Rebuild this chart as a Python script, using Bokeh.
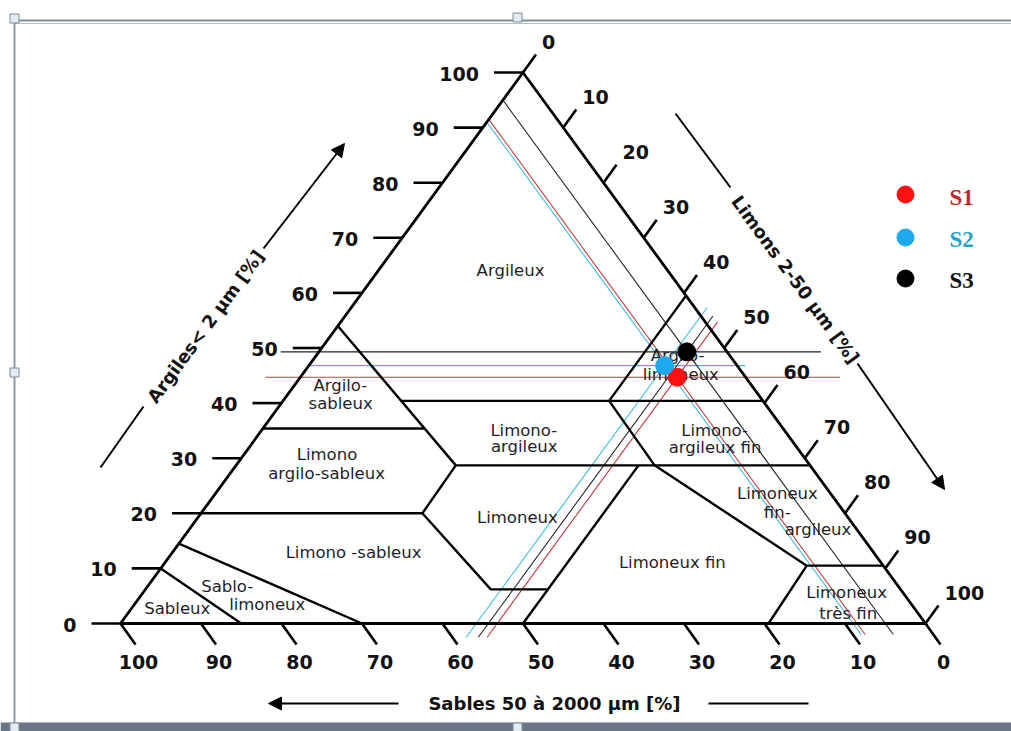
import math
from bokeh.plotting import figure
from bokeh.models import Range1d, ColumnDataSource, Arrow, NormalHead
from bokeh.core.properties import value
from bokeh.embed import file_html
from bokeh.resources import INLINE

# ---------------- data ----------------
samples = ["S1", "S2", "S3"]
sample_clay = [44.7, 46.8, 49.3]   # Argiles < 2 µm [%]
sample_silt = [46.8, 44.2, 45.7]   # Limons 2-50 µm [%]
sample_sand = [8.5, 9.0, 5.0]      # Sables 50-2000 µm [%]
dot_colors = ["#ff1010", "#1ea8ee", "#000000"]
guide_colors = ["#c23a40", "#3cbcd8", "#222222"]
legend_text_colors = ["#c0282a", "#2aa4c4", "#111111"]
# extent of the horizontal reading lines (in triangle X units)
guide_h_from = [18.0, 23.2, 19.9]
guide_h_to = [89.4, 77.6, 87.0]

tick_values = [0, 10, 20, 30, 40, 50, 60, 70, 80, 90, 100]
tick_labels = [str(v) for v in tick_values]

# texture-class boundaries: polylines given as (clay list, silt list)
boundary_clay = [
    [54.0, 28.7],
    [35.4, 35.4],
    [40.4, 40.4],
    [28.7, 28.7],
    [40.4, 59.5],
    [40.4, 28.7, 10.5, 10.5],
    [10.5, 0.0],
    [0.0, 28.7],
    [28.7, 20.0, 6.2, 6.2],
    [20.0, 20.0],
    [14.5, 0.0],
    [10.0, 0.0],
]
boundary_silt = [
    [0.0, 27.3],
    [0.0, 20.1],
    [14.6, 59.6],
    [27.3, 71.3],
    [40.5, 40.5],
    [40.5, 52.0, 80.0, 89.5],
    [80.0, 80.5],
    [50.0, 50.0],
    [27.3, 27.5, 42.9, 50.0],
    [0.0, 27.5],
    [0.0, 30.0],
    [0.0, 15.0],
]

# class names (one entry per text line) and their (clay, silt) anchors
class_text = ["Argileux", "Argilo-", "sableux", "Limono", "argilo-sableux",
              "Limono-", "argileux", "Argilo-", "limoneux", "Limono-",
              "argileux fin", "Limoneux", "Limono -sableux", "Sablo-",
              "limoneux", "Sableux", "Limoneux fin", "Limoneux", "fin-",
              "argileux", "Limoneux", "très fin"]
class_clay = [64.1, 43.2, 39.9, 30.7, 27.2, 35.0, 32.1, 48.6, 45.2, 35.0,
              31.9, 19.2, 12.9, 6.7, 3.45, 2.7, 11.1, 23.6, 20.15, 17.1,
              5.6, 1.8]
class_silt = [16.4, 5.7, 7.4, 10.3, 12.0, 32.6, 34.1, 44.9, 47.0, 56.3,
              57.9, 39.7, 22.5, 9.9, 16.5, 5.7, 63.0, 69.8, 71.5, 78.1,
              87.4, 89.5]

# ---------------- geometry ----------------
W, H = 1011, 731
X0PX, Y0PX, SX, SY = 120.0, 623.0, 8.05, 5.51


def tx(c, s):
    return s + c / 2.0


def ty(c, s):
    return c


def p2d(px, py):
    return ((px - X0PX) / SX, (Y0PX - py) / SY)


def dpx(dx):
    return dx / SX


def dpy(dy):
    return -dy / SY


p = figure(width=W, height=H,
           x_range=Range1d(-X0PX / SX, (W - X0PX) / SX),
           y_range=Range1d(-(H - Y0PX) / SY, Y0PX / SY),
           output_backend="svg", toolbar_location=None,
           x_axis_location=None, y_axis_location=None, min_border=0)
p.grid.visible = False
p.outline_line_color = None
p.background_fill_color = "white"
p.border_fill_color = "white"

# ---- frame decoration (image selection frame) ----
bx0, by0 = p2d(0, 722)
bx1, by1 = p2d(W, H)
p.quad(left=[bx0], right=[bx1], bottom=[by1], top=[by0], fill_color="#6a7684", line_color=None)
tx0, ty0 = p2d(14, 20)
tx1, _ = p2d(W, 20)
_, ty2 = p2d(14, 23)
p.segment(x0=[tx0, tx0], y0=[ty0, ty2], x1=[tx1, tx1], y1=[ty0, ty2],
          line_color=["#7e8d9c", "#b5c0cb"], line_width=[2, 1])
lx, ly0 = p2d(14, 20)
_, ly1 = p2d(14, 722)
p.segment(x0=[lx], y0=[ly0], x1=[lx], y1=[ly1], line_color="#8c99a6", line_width=2)
hpts = [p2d(14, 18), p2d(517, 17), p2d(14, 372), p2d(517, 727), p2d(14, 727)]
p.scatter(x=[h[0] for h in hpts], y=[h[1] for h in hpts], marker="square", size=9,
          fill_color="#e4ebf2", line_color="#7d8c9b", line_width=1)

# ---- sample guide lines ----
for i in range(3):
    c, s, a = sample_clay[i], sample_silt[i], sample_sand[i]
    col = guide_colors[i]
    # horizontal (constant clay)
    p.line(x=[guide_h_from[i], guide_h_to[i]], y=[ty(c, 0), ty(c, 0)], line_color=col, line_width=1.1)
    # constant sand (parallel to right edge)
    c_top, c_bot = 100 - a, -2.0
    p.line(x=[tx(c_top, 100 - a - c_top), tx(c_bot, 100 - a - c_bot)],
           y=[ty(c_top, 0), ty(c_bot, 0)], line_color=col, line_width=1.1)
    # constant silt (parallel to left edge)
    c_lo, c_hi = -2.5, 100 - s + 1.5
    p.line(x=[tx(c_lo, s), tx(c_hi, s)], y=[ty(c_lo, s), ty(c_hi, s)], line_color=col, line_width=1.1)

# ---- triangle outline ----
oc = [0, 0, 100, 0]
osl = [0, 100, 0, 0]
p.line(x=[tx(c, s) for c, s in zip(oc, osl)], y=[ty(c, s) for c, s in zip(oc, osl)],
       line_color="black", line_width=2.8, line_join="miter")

# ---- class boundaries ----
bxs = [[tx(c, s) for c, s in zip(cl, sl)] for cl, sl in zip(boundary_clay, boundary_silt)]
bys = [[ty(c, s) for c, s in zip(cl, sl)] for cl, sl in zip(boundary_clay, boundary_silt)]
p.multi_line(xs=bxs, ys=bys, line_color="black", line_width=2.4)

# ---- class labels ----
p.text(x=[tx(c, s) for c, s in zip(class_clay, class_silt)],
       y=[ty(c, s) for c, s in zip(class_clay, class_silt)],
       text=class_text, text_font=value("DejaVu Sans"), text_font_size="16.5px",
       text_color="#1e1e28", text_align="center", text_baseline="middle")

# ---- ticks ----
tick_font = value("DejaVu Sans")
# clay (left edge), horizontal ticks
lx0 = [tx(v, 0) for v in tick_values]
ly0 = [ty(v, 0) for v in tick_values]
p.segment(x0=lx0, y0=ly0, x1=[x + dpx(-29) for x in lx0], y1=ly0, line_color="black", line_width=2.6)
p.text(x=[x + dpx(-44) for x in lx0], y=[y + dpy(1) for y in ly0], text=tick_labels,
       text_font=tick_font, text_font_style="bold", text_font_size="19px",
       text_align="right", text_baseline="middle", text_color="#111111")
# sand (bottom edge), ticks parallel to right edge
sx0 = [tx(0, 100 - v) for v in tick_values]
sy0 = [ty(0, 100 - v) for v in tick_values]
p.segment(x0=sx0, y0=sy0, x1=[x + dpx(15) for x in sx0], y1=[y + dpy(21) for y in sy0],
          line_color="black", line_width=2.6)
p.text(x=[x + dpx(18) for x in sx0], y=[y + dpy(38) for y in sy0], text=tick_labels,
       text_font=tick_font, text_font_style="bold", text_font_size="19px",
       text_align="center", text_baseline="middle", text_color="#111111")
# silt (right edge), ticks parallel to left edge
rx0 = [tx(100 - v, v) for v in tick_values]
ry0 = [ty(100 - v, v) for v in tick_values]
p.segment(x0=rx0, y0=ry0, x1=[x + dpx(13) for x in rx0], y1=[y + dpy(-18) for y in ry0],
          line_color="black", line_width=2.6)
p.text(x=[x + dpx(19) for x in rx0], y=[y + dpy(-31) for y in ry0], text=tick_labels,
       text_font=tick_font, text_font_style="bold", text_font_size="19px",
       text_align="left", text_baseline="middle", text_color="#111111")

# ---- axis titles ----
ang = math.atan2(551, 403)
titles = [("Argiles< 2 µm [%]", (205, 326), ang),
          ("Limons 2-50 µm [%]", (795, 279), -ang),
          ("Sables 50 à 2000 µm [%]", (554, 703), 0.0)]
for t, (px, py), a in titles:
    x, y = p2d(px, py)
    p.text(x=[x], y=[y], text=[t], angle=a, text_font=tick_font, text_font_style="bold",
           text_font_size="18px", text_align="center", text_baseline="middle", text_color="#111111")

plain = [((100, 467), (143, 406)), ((675, 113), (730, 187)), ((708, 703), (808, 703))]
for (a0, a1) in plain:
    x0, y0 = p2d(*a0)
    x1, y1 = p2d(*a1)
    p.line(x=[x0, x1], y=[y0, y1], line_color="black", line_width=2)
arrows = [((263, 248), (344, 143)), ((857, 363), (944, 489)), ((398, 703), (268, 703))]
for (a0, a1) in arrows:
    x0, y0 = p2d(*a0)
    x1, y1 = p2d(*a1)
    p.add_layout(Arrow(end=NormalHead(size=13, fill_color="black", line_color="black", line_width=1),
                       x_start=x0, y_start=y0, x_end=x1, y_end=y1,
                       line_color="black", line_width=2))

# ---- sample points ----
src = ColumnDataSource(dict(x=[tx(c, s) for c, s in zip(sample_clay, sample_silt)],
                            y=[ty(c, s) for c, s in zip(sample_clay, sample_silt)],
                            color=dot_colors))
p.scatter(x="x", y="y", source=src, size=18, fill_color="color", line_color="color")

# ---- legend ----
leg_dot = [p2d(905, 194), p2d(905, 237), p2d(905, 278)]
p.scatter(x=[d[0] for d in leg_dot], y=[d[1] for d in leg_dot], size=17,
          fill_color=dot_colors, line_color=dot_colors)
leg_txt = [p2d(949, 197), p2d(949, 239), p2d(949, 280)]
p.text(x=[d[0] for d in leg_txt], y=[d[1] for d in leg_txt], text=samples,
       text_font=value("Liberation Serif"), text_font_style="bold", text_font_size="23px",
       text_color=legend_text_colors, text_align="left", text_baseline="middle")

open("out.html", "w").write(file_html(p, INLINE))
